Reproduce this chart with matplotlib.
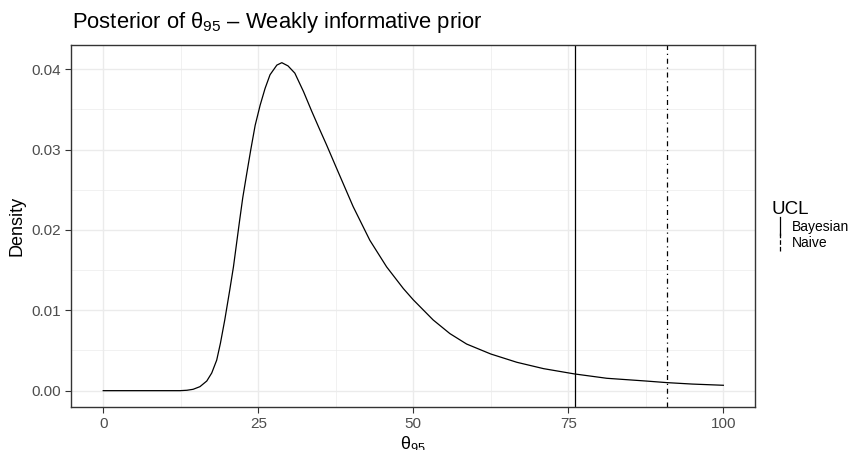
import numpy as np
import matplotlib
matplotlib.use("Agg")
import matplotlib.pyplot as plt
from matplotlib.lines import Line2D
from matplotlib.legend_handler import HandlerBase

plt.rcParams["font.family"] = ["Liberation Sans", "DejaVu Sans"]
plt.rcParams["mathtext.fontset"] = "custom"
plt.rcParams["mathtext.rm"] = "Liberation Sans"
plt.rcParams["mathtext.it"] = "Liberation Sans"

# posterior density of theta_95
theta = [0, 5, 10, 12.4, 13.5, 14.5, 15.6, 16.7, 17.5, 18.3, 18.9, 19.6,
         20.4, 21.0, 21.5, 22.0, 22.5, 23.1, 23.8, 24.5, 25.3, 26.1, 26.9,
         28.0, 28.8, 29.8, 30.9, 32.3, 33.6, 34.9, 36.0, 37.5, 40.3, 43.0,
         45.7, 48.4, 50.0, 53.2, 55.9, 58.6, 62.5, 66.7, 71.0, 76.0, 81.2,
         87.5, 90.9, 95.0, 100]
density = [0, 0, 0, 0, 0.00005, 0.00017, 0.0005, 0.0012, 0.0022, 0.0038,
           0.0059, 0.0088, 0.0125, 0.0154, 0.0183, 0.0212, 0.0240, 0.0268,
           0.0300, 0.0330, 0.0355, 0.0376, 0.0393, 0.0405, 0.0408, 0.0404,
           0.0395, 0.0372, 0.0348, 0.0325, 0.0306, 0.0279, 0.0229, 0.0187,
           0.0154, 0.0127, 0.0113, 0.0088, 0.0071, 0.0058, 0.00456, 0.00353,
           0.00274, 0.00208, 0.00154, 0.00120, 0.00100, 0.00082, 0.00067]

ucl_labels = ["Bayesian", "Naive"]
ucl_values = [76.0, 90.9]

dotdash = (0, (4, 3, 1, 3))
styles = ["-", dotdash]


class VLineHandler(HandlerBase):
    # vertical key like ggplot's geom_vline legend
    def create_artists(self, legend, orig_handle, xdescent, ydescent,
                       width, height, fontsize, trans):
        x = width / 2 - xdescent
        ln = Line2D([x, x], [-ydescent - 3, height - ydescent + 3],
                    color="black", lw=0.9, linestyle=orig_handle.get_linestyle())
        ln.set_transform(trans)
        return [ln]


fig = plt.figure(figsize=(8.5, 4.5), dpi=100)
ax = fig.add_axes([0.0835, 0.0956, 0.8047, 0.8044])

ax.plot(theta, density, color="black", lw=0.9)
handles = []
for val, ls, lab in zip(ucl_values, styles, ucl_labels):
    ax.axvline(val, color="black", lw=0.9, linestyle=ls)
    handles.append(Line2D([], [], color="black", lw=0.9, linestyle=ls, label=lab))

ax.set_xlim(-5.2, 105.1)
ax.set_ylim(-0.00203, 0.0430)
ax.set_xticks([0, 25, 50, 75, 100])
ax.set_xticks([12.5, 37.5, 62.5, 87.5], minor=True)
ax.set_yticks([0, 0.01, 0.02, 0.03, 0.04])
ax.set_yticklabels(["0.00", "0.01", "0.02", "0.03", "0.04"])
ax.set_yticks([0.005, 0.015, 0.025, 0.035], minor=True)

ax.grid(True, which="major", color="#ebebeb", lw=1.0)
ax.grid(True, which="minor", color="#ebebeb", lw=0.5)
ax.set_axisbelow(True)
for sp in ax.spines.values():
    sp.set_color("#333333")
    sp.set_linewidth(1.0)
ax.tick_params(which="major", length=4, color="#333333", labelsize=11,
               labelcolor="#4d4d4d", width=0.8)
ax.tick_params(which="minor", length=0)

ax.set_xlabel(r"$\theta_{95}$", fontsize=13, labelpad=2)
ax.set_ylabel("Density", fontsize=13, labelpad=4)
fig.text(0.0845, 0.937, r"Posterior of $\theta_{95}$ – Weakly informative prior",
         fontsize=15.8, ha="left", va="baseline")

leg = fig.legend(handles=handles, title="UCL", loc="upper left",
                 bbox_to_anchor=(0.901, 0.566), frameon=False, fontsize=10,
                 title_fontsize=13.5, handler_map={Line2D: VLineHandler()},
                 handlelength=1.3, handletextpad=0.2, labelspacing=0.15,
                 borderaxespad=0)
leg._legend_box.align = "left"

fig.savefig("out.png", dpi=100)
